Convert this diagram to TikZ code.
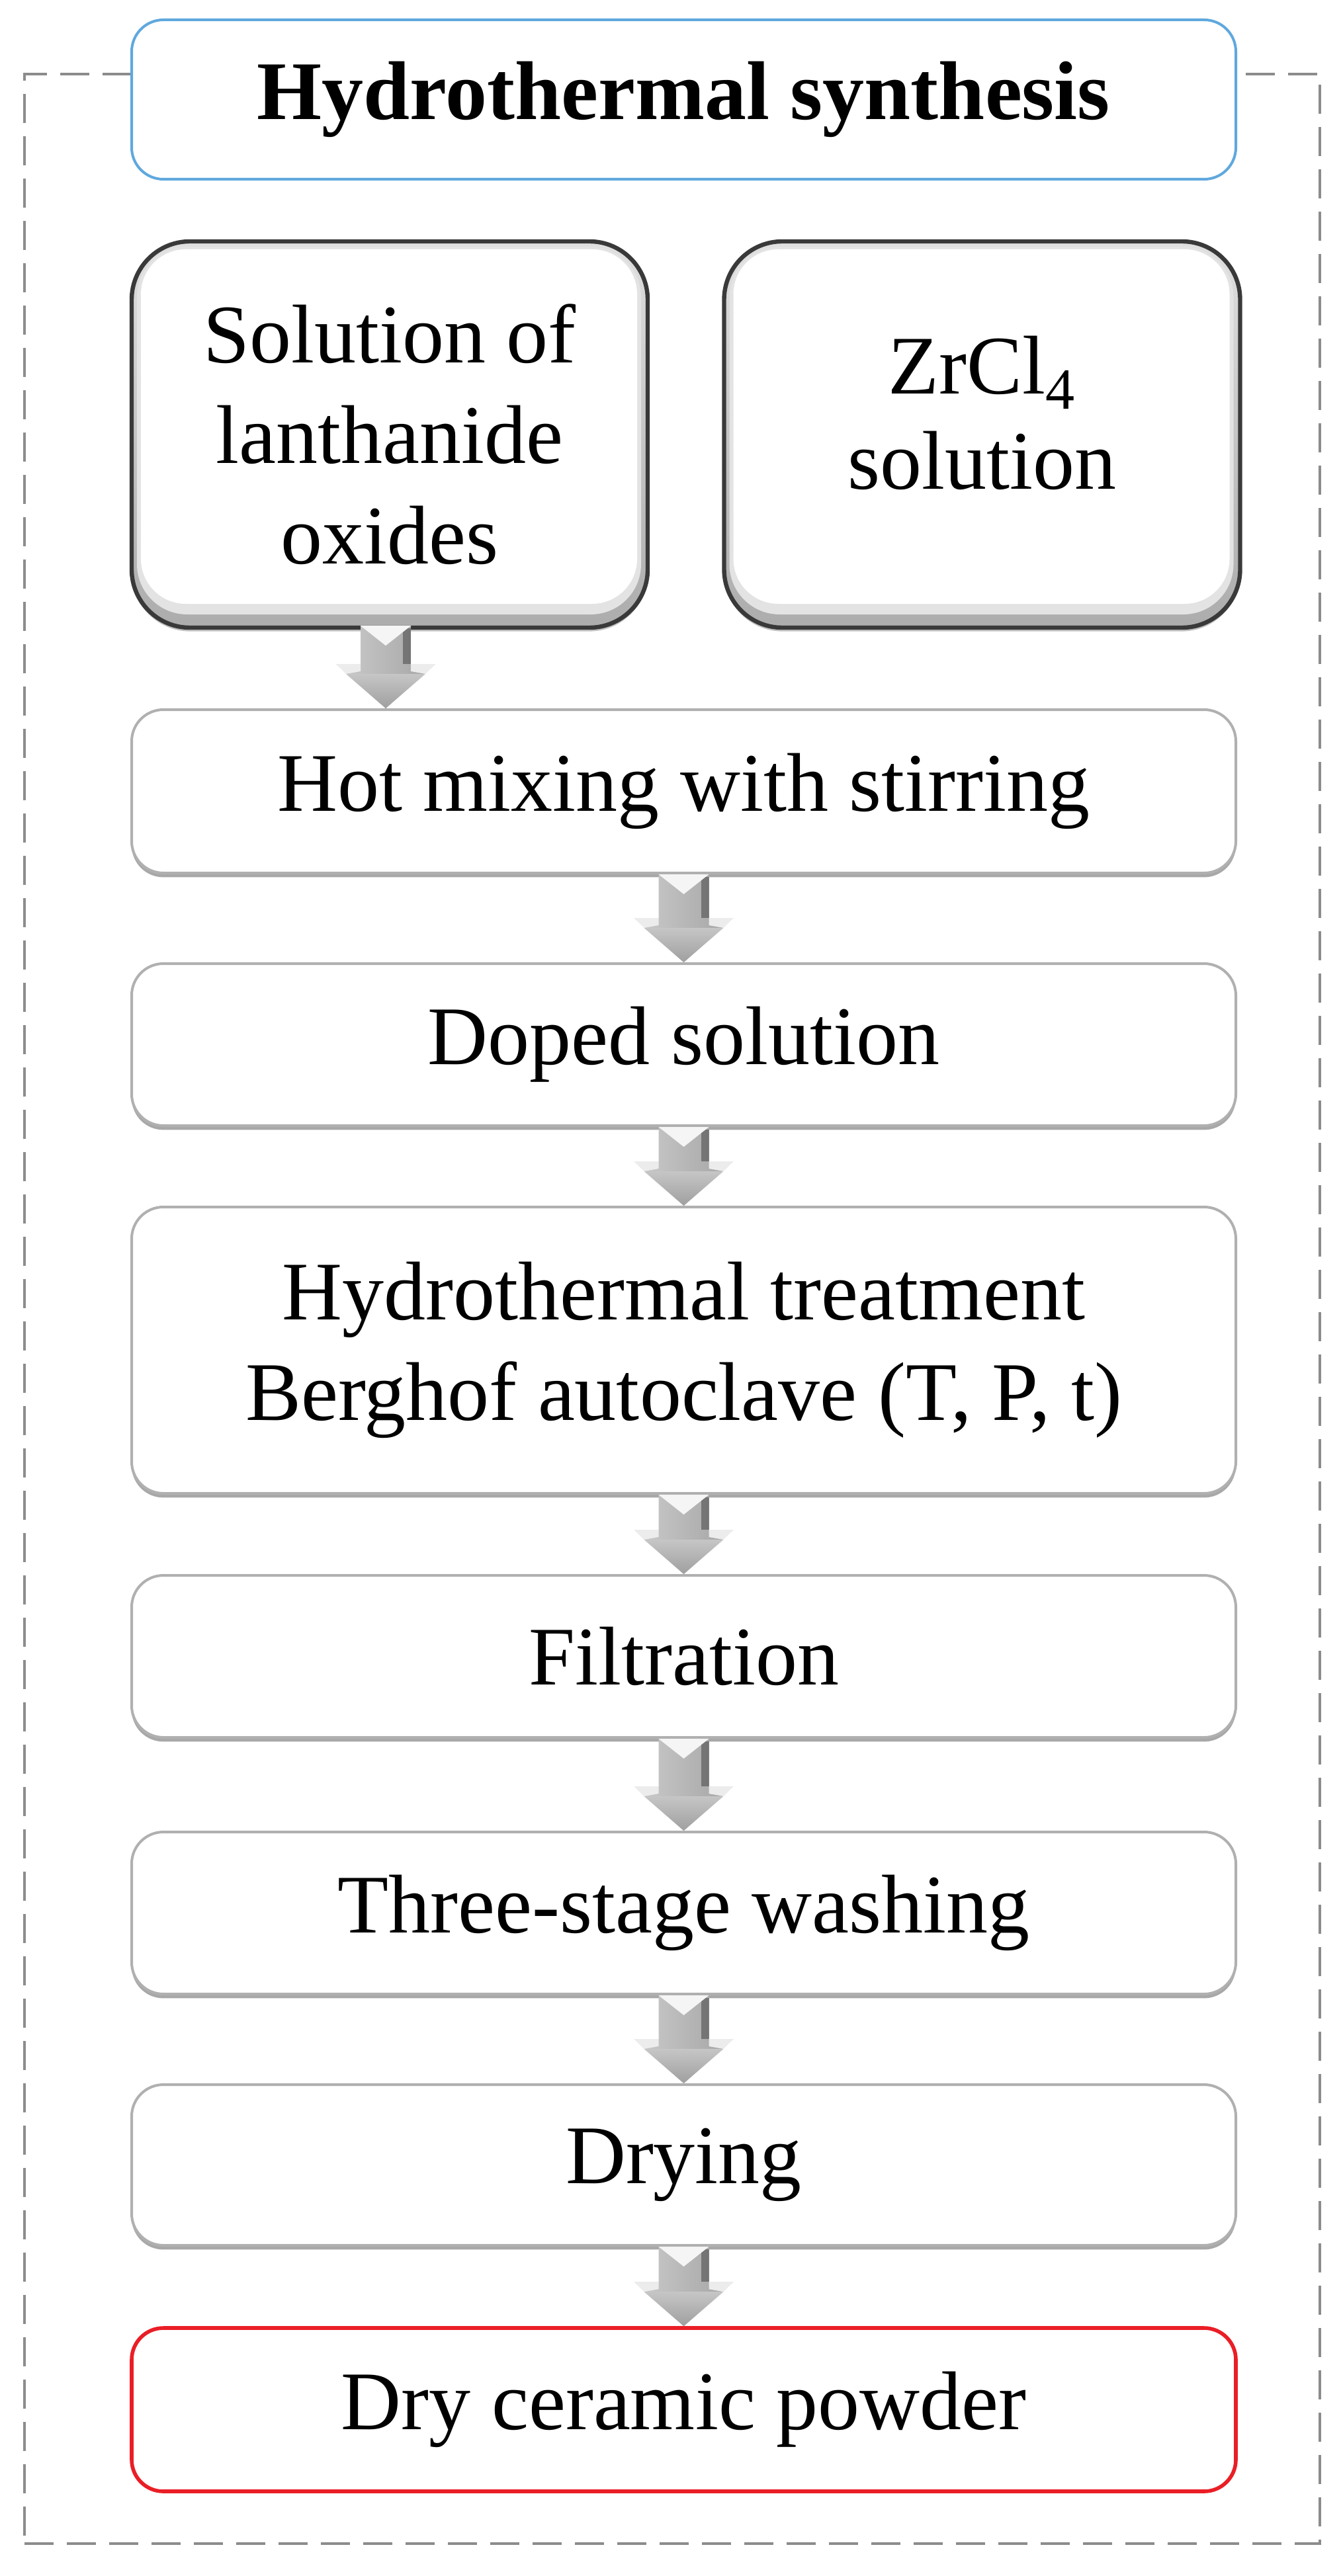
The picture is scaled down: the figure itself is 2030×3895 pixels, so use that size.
\documentclass[tikz,border=0pt]{standalone}
\usepackage{fontspec}
\setmainfont{Liberation Serif}
\usetikzlibrary{calc,shadows}
\definecolor{titleblue}{RGB}{95,168,222}
\definecolor{boxred}{RGB}{234,30,38}
\definecolor{framegray}{RGB}{140,140,140}
\tikzset{
  bodyfont/.style={font=\fontsize{31.5}{38}\selectfont},
  framebox/.style={draw=framegray, line width=1.1pt, dash pattern=on 11pt off 5pt, minimum width=489.5pt, minimum height=933.5pt, inner sep=0pt},
  titlebox/.style={draw=titleblue, line width=1pt, rounded corners=12pt, fill=white, font=\bfseries\fontsize{31.5}{37}\selectfont, minimum width=417.25pt, minimum height=60.25pt, inner sep=0pt},
  plainbox/.style={draw=gray!62, line width=1pt, rounded corners=12pt, fill=white, bodyfont, align=center, minimum width=417.25pt, inner sep=0pt,
    drop shadow={shadow xshift=0pt, shadow yshift=-1.6pt, fill=gray!75, opacity=0.9}},
  endbox/.style={draw=boxred, line width=1.4pt, rounded corners=12pt, fill=white, bodyfont, align=center, minimum width=417.25pt, inner sep=0pt},
  srcbox/.style={draw=gray!45!black, line width=1.6pt, rounded corners=22pt, bodyfont, align=center, minimum width=195pt, minimum height=146pt, inner sep=0pt,
    top color=gray!25, bottom color=gray!65,
    drop shadow={shadow xshift=0pt, shadow yshift=-1.4pt, fill=gray!60, opacity=0.8},
    path picture={
      \fill[gray!22, rounded corners=19pt] ([shift={(2pt,-2pt)}]path picture bounding box.north west) rectangle ([shift={(-2.5pt,5pt)}]path picture bounding box.south east);
      \fill[white, rounded corners=17pt] ([shift={(3.5pt,-3pt)}]path picture bounding box.north west) rectangle ([shift={(-4pt,9pt)}]path picture bounding box.south east);
    }},
}
% 3D block arrow from point #1 (top) down to point #2 (tip)
\newcommand{\gblockarrow}[2]{%
  \path let \p1=(#1), \p2=(#2) in \pgfextra{\xdef\gax{\x1}\xdef\gay{\y1}\xdef\gby{\y2}};
  \shade[left color=gray!40, right color=gray!72]
    ({\gax-9.5pt},{\gay}) -- ({\gax+9.5pt},{\gay}) -- ({\gax+9.5pt},{\gby+16.75pt})
    -- ({\gax+18.75pt},{\gby+16.75pt}) -- ({\gax},{\gby}) -- ({\gax-18.75pt},{\gby+16.75pt})
    -- ({\gax-9.5pt},{\gby+16.75pt}) -- cycle;
  \shade[top color=gray!45, bottom color=gray!75]
    ({\gax-15pt},{\gby+13pt}) -- ({\gax+15pt},{\gby+13pt}) -- ({\gax},{\gby}) -- cycle;
  \fill[gray!15] ({\gax-18.75pt},{\gby+16.75pt}) -- ({\gax-9.5pt},{\gby+16.75pt}) -- ({\gax-9.5pt},{\gby+14pt}) -- ({\gax-15pt},{\gby+13pt}) -- cycle;
  \fill[gray!15] ({\gax+18.75pt},{\gby+16.75pt}) -- ({\gax+9.5pt},{\gby+16.75pt}) -- ({\gax+9.5pt},{\gby+14pt}) -- ({\gax+15pt},{\gby+13pt}) -- cycle;
  \fill[gray!55!black, opacity=0.55] ({\gax+6.5pt},{\gay-1pt}) rectangle ({\gax+9.5pt},{\gby+16.75pt});
  \fill[gray!8] ({\gax-9.5pt},{\gay}) -- ({\gax+9.5pt},{\gay}) -- ({\gax},{\gay-7.5pt}) -- cycle;
}
\begin{document}
\begin{tikzpicture}[x=0.25pt, y=-0.25pt]
\useasboundingbox (0,0) rectangle (2030,3895);
\fill[white] (0,0) rectangle (2030,3895);

\node[framebox] (frame) at (1016,1979) {};
\node[titlebox] (title) at (1033.5,150.5) {Hydrothermal synthesis};

\node[srcbox] (sol) at (589,657) {Solution of\\lanthanide\\oxides};
\node[srcbox, font=\fontsize{31.5}{36}\selectfont] (zr) at (1484.5,657) {ZrCl\textsubscript{4}\\solution\\[-30pt]\strut};

\node[plainbox, minimum height=61.75pt] (hot) at (1033.5,1196.5) {Hot mixing with stirring};
\node[plainbox, minimum height=61.25pt] (doped) at (1033.5,1579.5) {Doped solution};
\node[plainbox, minimum height=108.25pt] (hydro) at (1033.5,2041.5) {Hydrothermal treatment\\Berghof autoclave (T, P, t)};
\node[plainbox, minimum height=61.25pt] (filt) at (1033.5,2504.5) {Filtration};
\node[plainbox, minimum height=61.25pt] (wash) at (1033.5,2892.5) {Three-stage washing};
\node[plainbox, minimum height=60.75pt] (dry) at (1033.5,3273.5) {Drying};
\node[endbox, minimum height=61.75pt] (powder) at (1033.5,3643.5) {Dry ceramic powder};

\gblockarrow{$(sol.south)+(-1.5pt,1.5pt)$}{$(sol.south |- hot.north)+(-1.5pt,0)$}
\gblockarrow{hot.south}{doped.north}
\gblockarrow{doped.south}{hydro.north}
\gblockarrow{hydro.south}{filt.north}
\gblockarrow{filt.south}{wash.north}
\gblockarrow{wash.south}{dry.north}
\gblockarrow{dry.south}{powder.north}
\end{tikzpicture}
\end{document}
